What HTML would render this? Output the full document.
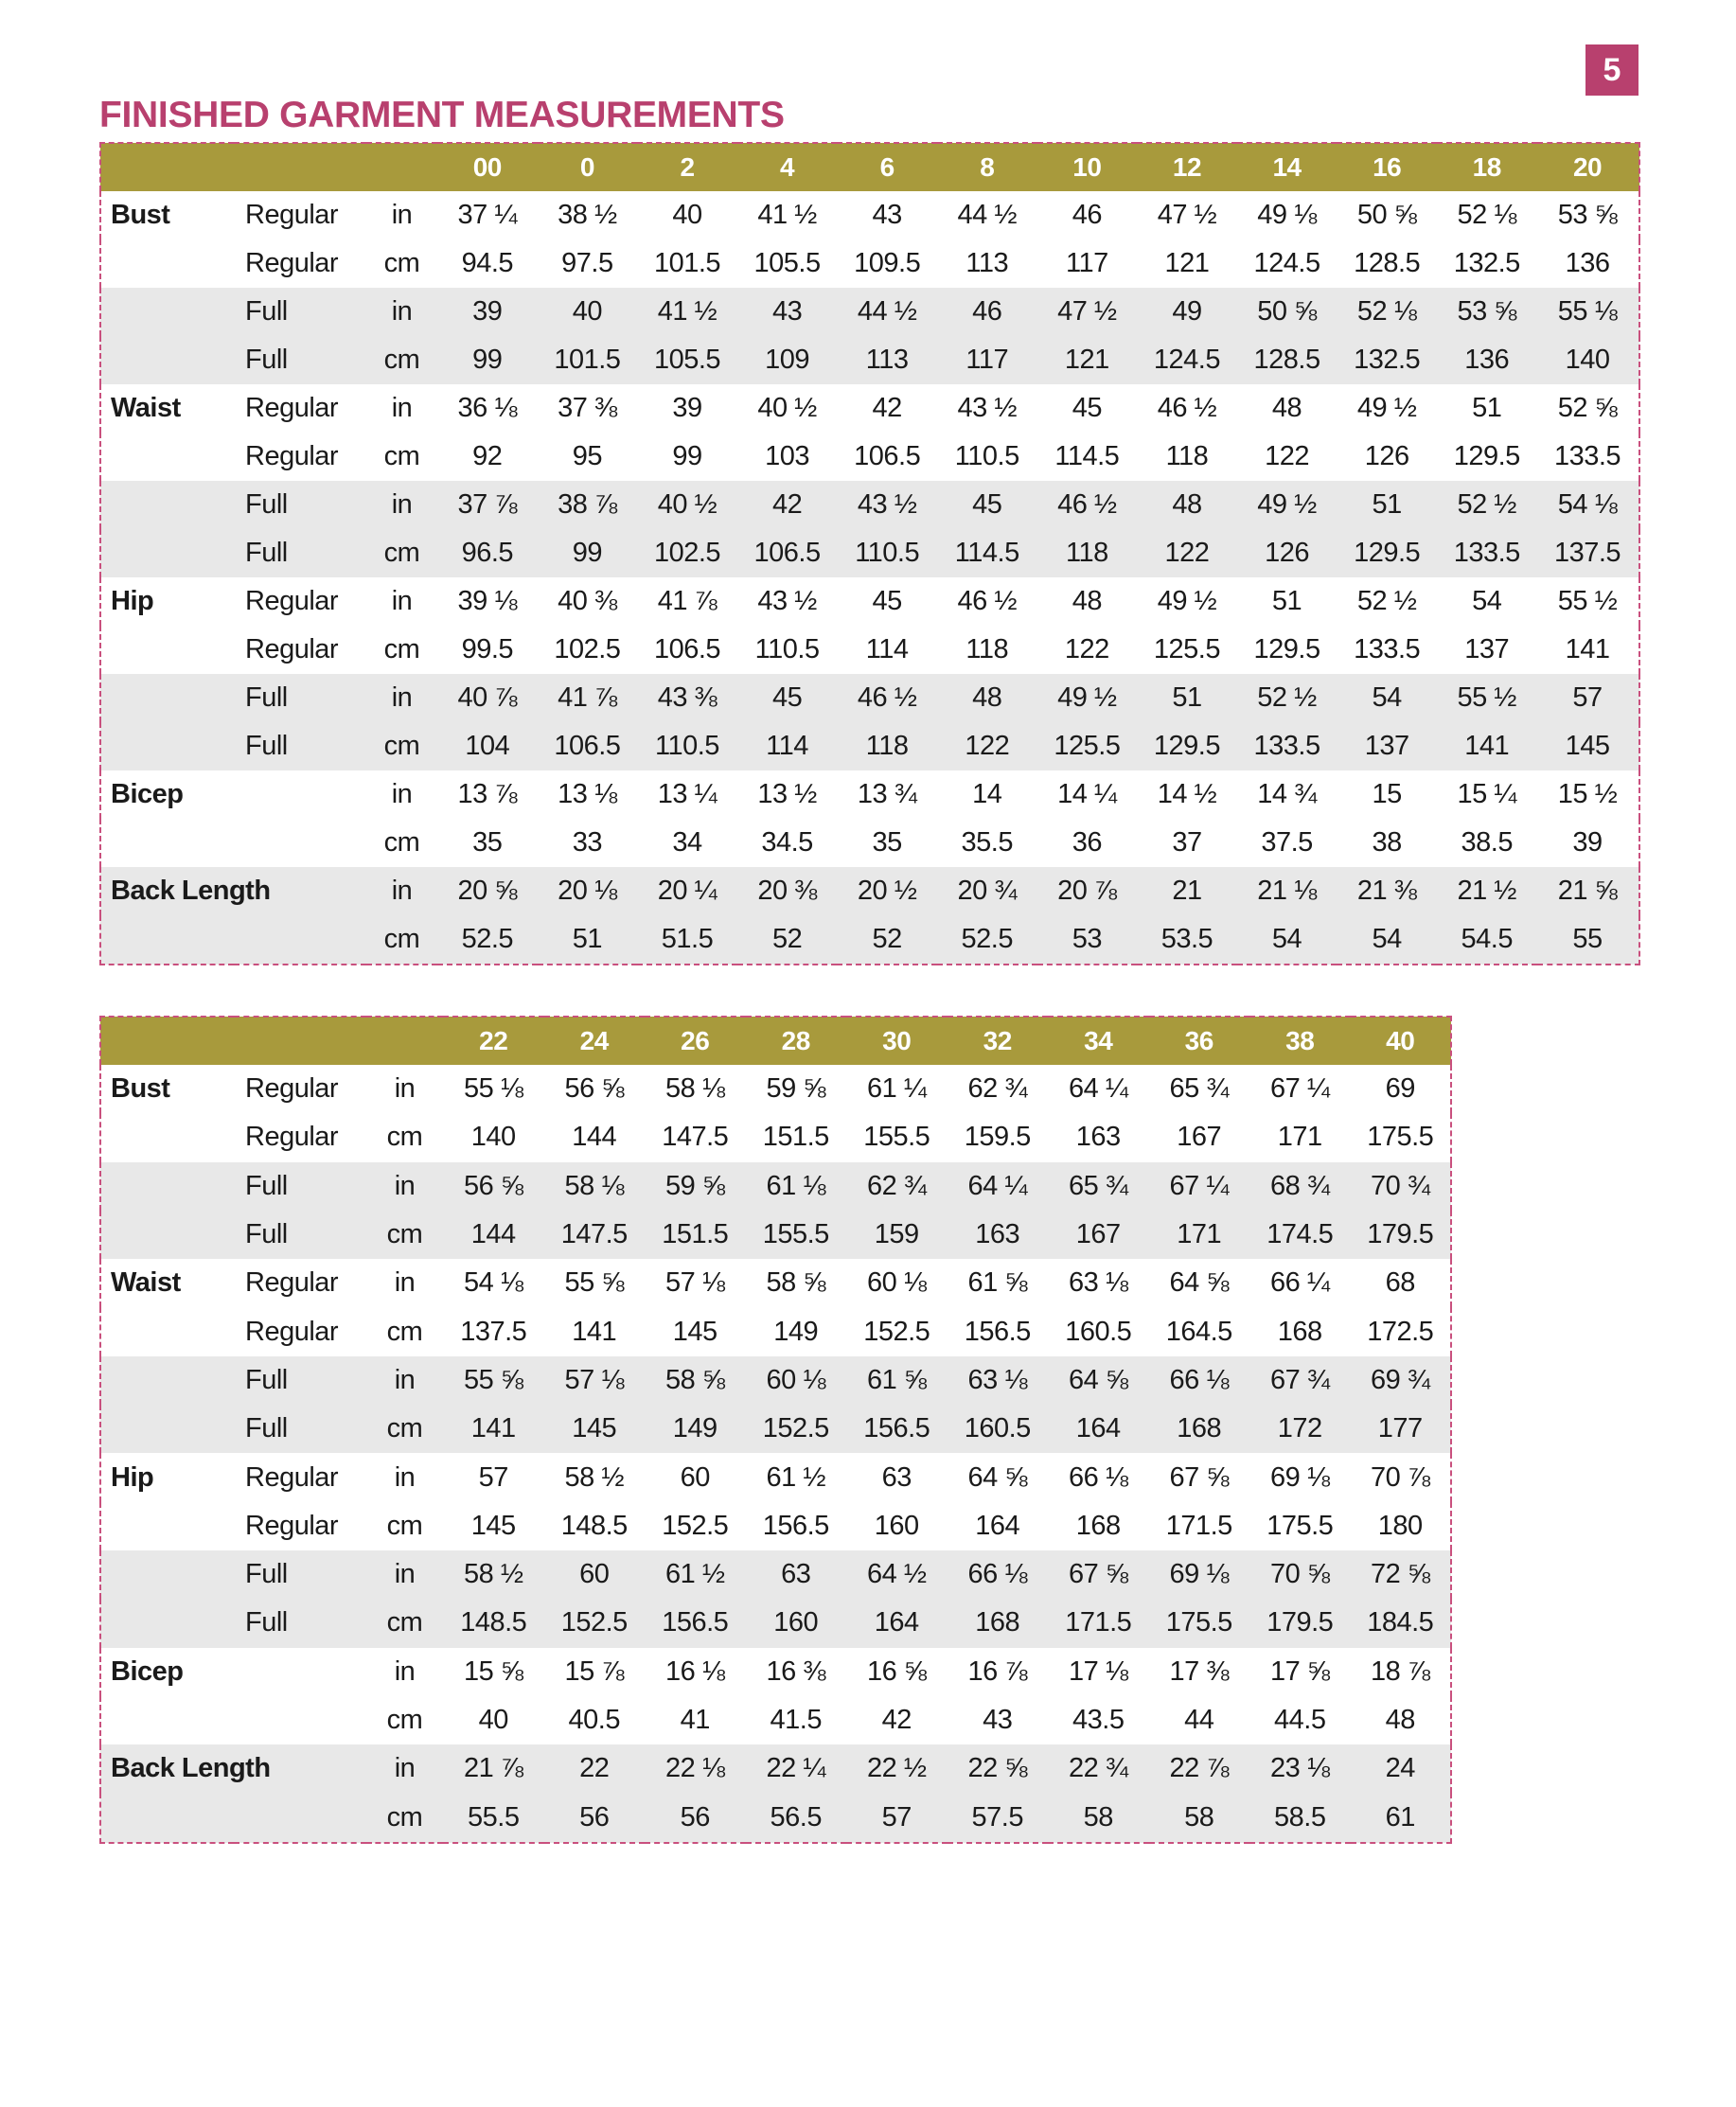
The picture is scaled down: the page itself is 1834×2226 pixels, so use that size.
<!DOCTYPE html>
<html><head><meta charset="utf-8">
<style>
html,body{margin:0;padding:0;background:#fff;}
body{width:1834px;height:2226px;position:relative;font-family:"Liberation Sans","DejaVu Sans",sans-serif;color:#1a1a1a;}
.badge{position:absolute;left:1675px;top:47px;width:56px;height:54px;background:#b8406e;color:#fff;font-weight:bold;font-size:34px;text-align:center;line-height:54px;}
.title{position:absolute;left:105px;top:100px;font-size:39px;font-weight:bold;color:#b8406e;letter-spacing:-0.3px;}
table{position:absolute;border-collapse:collapse;table-layout:fixed;left:105px;border:2px dashed #c9507e;}
td,th{padding:0;height:51px;font-size:29px;text-align:center;white-space:nowrap;overflow:visible;letter-spacing:-0.5px;}
th{background:#a89a3c;color:#fff;font-size:28px;height:50px;font-weight:bold;}
td.g{text-align:left;padding-left:10px;font-weight:bold;}
td.s{text-align:left;padding-left:12px;}
tr.z td{background:#e8e8e8;}
#t1{top:150px;width:1626px;}
#t2{top:1073px;width:1427px;}
#t2 td{height:51.3px;}
</style></head><body>
<div class="badge">5</div>
<div class="title">FINISHED GARMENT MEASUREMENTS</div>

<table id="t1">
<colgroup><col style="width:141px"><col style="width:140px"><col style="width:75px"><col span="11" style="width:105.6px"><col style="width:108px"></colgroup>
<tr><th></th><th></th><th></th><th>00</th><th>0</th><th>2</th><th>4</th><th>6</th><th>8</th><th>10</th><th>12</th><th>14</th><th>16</th><th>18</th><th>20</th></tr>
<tr><td class="g">Bust</td><td class="s">Regular</td><td>in</td><td>37 ¼</td><td>38 ½</td><td>40</td><td>41 ½</td><td>43</td><td>44 ½</td><td>46</td><td>47 ½</td><td>49 ⅛</td><td>50 ⅝</td><td>52 ⅛</td><td>53 ⅝</td></tr>
<tr><td></td><td class="s">Regular</td><td>cm</td><td>94.5</td><td>97.5</td><td>101.5</td><td>105.5</td><td>109.5</td><td>113</td><td>117</td><td>121</td><td>124.5</td><td>128.5</td><td>132.5</td><td>136</td></tr>
<tr class="z"><td></td><td class="s">Full</td><td>in</td><td>39</td><td>40</td><td>41 ½</td><td>43</td><td>44 ½</td><td>46</td><td>47 ½</td><td>49</td><td>50 ⅝</td><td>52 ⅛</td><td>53 ⅝</td><td>55 ⅛</td></tr>
<tr class="z"><td></td><td class="s">Full</td><td>cm</td><td>99</td><td>101.5</td><td>105.5</td><td>109</td><td>113</td><td>117</td><td>121</td><td>124.5</td><td>128.5</td><td>132.5</td><td>136</td><td>140</td></tr>
<tr><td class="g">Waist</td><td class="s">Regular</td><td>in</td><td>36 ⅛</td><td>37 ⅜</td><td>39</td><td>40 ½</td><td>42</td><td>43 ½</td><td>45</td><td>46 ½</td><td>48</td><td>49 ½</td><td>51</td><td>52 ⅝</td></tr>
<tr><td></td><td class="s">Regular</td><td>cm</td><td>92</td><td>95</td><td>99</td><td>103</td><td>106.5</td><td>110.5</td><td>114.5</td><td>118</td><td>122</td><td>126</td><td>129.5</td><td>133.5</td></tr>
<tr class="z"><td></td><td class="s">Full</td><td>in</td><td>37 ⅞</td><td>38 ⅞</td><td>40 ½</td><td>42</td><td>43 ½</td><td>45</td><td>46 ½</td><td>48</td><td>49 ½</td><td>51</td><td>52 ½</td><td>54 ⅛</td></tr>
<tr class="z"><td></td><td class="s">Full</td><td>cm</td><td>96.5</td><td>99</td><td>102.5</td><td>106.5</td><td>110.5</td><td>114.5</td><td>118</td><td>122</td><td>126</td><td>129.5</td><td>133.5</td><td>137.5</td></tr>
<tr><td class="g">Hip</td><td class="s">Regular</td><td>in</td><td>39 ⅛</td><td>40 ⅜</td><td>41 ⅞</td><td>43 ½</td><td>45</td><td>46 ½</td><td>48</td><td>49 ½</td><td>51</td><td>52 ½</td><td>54</td><td>55 ½</td></tr>
<tr><td></td><td class="s">Regular</td><td>cm</td><td>99.5</td><td>102.5</td><td>106.5</td><td>110.5</td><td>114</td><td>118</td><td>122</td><td>125.5</td><td>129.5</td><td>133.5</td><td>137</td><td>141</td></tr>
<tr class="z"><td></td><td class="s">Full</td><td>in</td><td>40 ⅞</td><td>41 ⅞</td><td>43 ⅜</td><td>45</td><td>46 ½</td><td>48</td><td>49 ½</td><td>51</td><td>52 ½</td><td>54</td><td>55 ½</td><td>57</td></tr>
<tr class="z"><td></td><td class="s">Full</td><td>cm</td><td>104</td><td>106.5</td><td>110.5</td><td>114</td><td>118</td><td>122</td><td>125.5</td><td>129.5</td><td>133.5</td><td>137</td><td>141</td><td>145</td></tr>
<tr><td class="g">Bicep</td><td></td><td>in</td><td>13 ⅞</td><td>13 ⅛</td><td>13 ¼</td><td>13 ½</td><td>13 ¾</td><td>14</td><td>14 ¼</td><td>14 ½</td><td>14 ¾</td><td>15</td><td>15 ¼</td><td>15 ½</td></tr>
<tr><td></td><td></td><td>cm</td><td>35</td><td>33</td><td>34</td><td>34.5</td><td>35</td><td>35.5</td><td>36</td><td>37</td><td>37.5</td><td>38</td><td>38.5</td><td>39</td></tr>
<tr class="z"><td class="g" colspan="2">Back Length</td><td>in</td><td>20 ⅝</td><td>20 ⅛</td><td>20 ¼</td><td>20 ⅜</td><td>20 ½</td><td>20 ¾</td><td>20 ⅞</td><td>21</td><td>21 ⅛</td><td>21 ⅜</td><td>21 ½</td><td>21 ⅝</td></tr>
<tr class="z"><td></td><td></td><td>cm</td><td>52.5</td><td>51</td><td>51.5</td><td>52</td><td>52</td><td>52.5</td><td>53</td><td>53.5</td><td>54</td><td>54</td><td>54.5</td><td>55</td></tr>
</table>

<table id="t2">
<colgroup><col style="width:141px"><col style="width:140px"><col style="width:81px"><col span="10" style="width:106.5px"></colgroup>
<tr><th></th><th></th><th></th><th>22</th><th>24</th><th>26</th><th>28</th><th>30</th><th>32</th><th>34</th><th>36</th><th>38</th><th>40</th></tr>
<tr><td class="g">Bust</td><td class="s">Regular</td><td>in</td><td>55 ⅛</td><td>56 ⅝</td><td>58 ⅛</td><td>59 ⅝</td><td>61 ¼</td><td>62 ¾</td><td>64 ¼</td><td>65 ¾</td><td>67 ¼</td><td>69</td></tr>
<tr><td></td><td class="s">Regular</td><td>cm</td><td>140</td><td>144</td><td>147.5</td><td>151.5</td><td>155.5</td><td>159.5</td><td>163</td><td>167</td><td>171</td><td>175.5</td></tr>
<tr class="z"><td></td><td class="s">Full</td><td>in</td><td>56 ⅝</td><td>58 ⅛</td><td>59 ⅝</td><td>61 ⅛</td><td>62 ¾</td><td>64 ¼</td><td>65 ¾</td><td>67 ¼</td><td>68 ¾</td><td>70 ¾</td></tr>
<tr class="z"><td></td><td class="s">Full</td><td>cm</td><td>144</td><td>147.5</td><td>151.5</td><td>155.5</td><td>159</td><td>163</td><td>167</td><td>171</td><td>174.5</td><td>179.5</td></tr>
<tr><td class="g">Waist</td><td class="s">Regular</td><td>in</td><td>54 ⅛</td><td>55 ⅝</td><td>57 ⅛</td><td>58 ⅝</td><td>60 ⅛</td><td>61 ⅝</td><td>63 ⅛</td><td>64 ⅝</td><td>66 ¼</td><td>68</td></tr>
<tr><td></td><td class="s">Regular</td><td>cm</td><td>137.5</td><td>141</td><td>145</td><td>149</td><td>152.5</td><td>156.5</td><td>160.5</td><td>164.5</td><td>168</td><td>172.5</td></tr>
<tr class="z"><td></td><td class="s">Full</td><td>in</td><td>55 ⅝</td><td>57 ⅛</td><td>58 ⅝</td><td>60 ⅛</td><td>61 ⅝</td><td>63 ⅛</td><td>64 ⅝</td><td>66 ⅛</td><td>67 ¾</td><td>69 ¾</td></tr>
<tr class="z"><td></td><td class="s">Full</td><td>cm</td><td>141</td><td>145</td><td>149</td><td>152.5</td><td>156.5</td><td>160.5</td><td>164</td><td>168</td><td>172</td><td>177</td></tr>
<tr><td class="g">Hip</td><td class="s">Regular</td><td>in</td><td>57</td><td>58 ½</td><td>60</td><td>61 ½</td><td>63</td><td>64 ⅝</td><td>66 ⅛</td><td>67 ⅝</td><td>69 ⅛</td><td>70 ⅞</td></tr>
<tr><td></td><td class="s">Regular</td><td>cm</td><td>145</td><td>148.5</td><td>152.5</td><td>156.5</td><td>160</td><td>164</td><td>168</td><td>171.5</td><td>175.5</td><td>180</td></tr>
<tr class="z"><td></td><td class="s">Full</td><td>in</td><td>58 ½</td><td>60</td><td>61 ½</td><td>63</td><td>64 ½</td><td>66 ⅛</td><td>67 ⅝</td><td>69 ⅛</td><td>70 ⅝</td><td>72 ⅝</td></tr>
<tr class="z"><td></td><td class="s">Full</td><td>cm</td><td>148.5</td><td>152.5</td><td>156.5</td><td>160</td><td>164</td><td>168</td><td>171.5</td><td>175.5</td><td>179.5</td><td>184.5</td></tr>
<tr><td class="g">Bicep</td><td></td><td>in</td><td>15 ⅝</td><td>15 ⅞</td><td>16 ⅛</td><td>16 ⅜</td><td>16 ⅝</td><td>16 ⅞</td><td>17 ⅛</td><td>17 ⅜</td><td>17 ⅝</td><td>18 ⅞</td></tr>
<tr><td></td><td></td><td>cm</td><td>40</td><td>40.5</td><td>41</td><td>41.5</td><td>42</td><td>43</td><td>43.5</td><td>44</td><td>44.5</td><td>48</td></tr>
<tr class="z"><td class="g" colspan="2">Back Length</td><td>in</td><td>21 ⅞</td><td>22</td><td>22 ⅛</td><td>22 ¼</td><td>22 ½</td><td>22 ⅝</td><td>22 ¾</td><td>22 ⅞</td><td>23 ⅛</td><td>24</td></tr>
<tr class="z"><td></td><td></td><td>cm</td><td>55.5</td><td>56</td><td>56</td><td>56.5</td><td>57</td><td>57.5</td><td>58</td><td>58</td><td>58.5</td><td>61</td></tr>
</table>
</body></html>
